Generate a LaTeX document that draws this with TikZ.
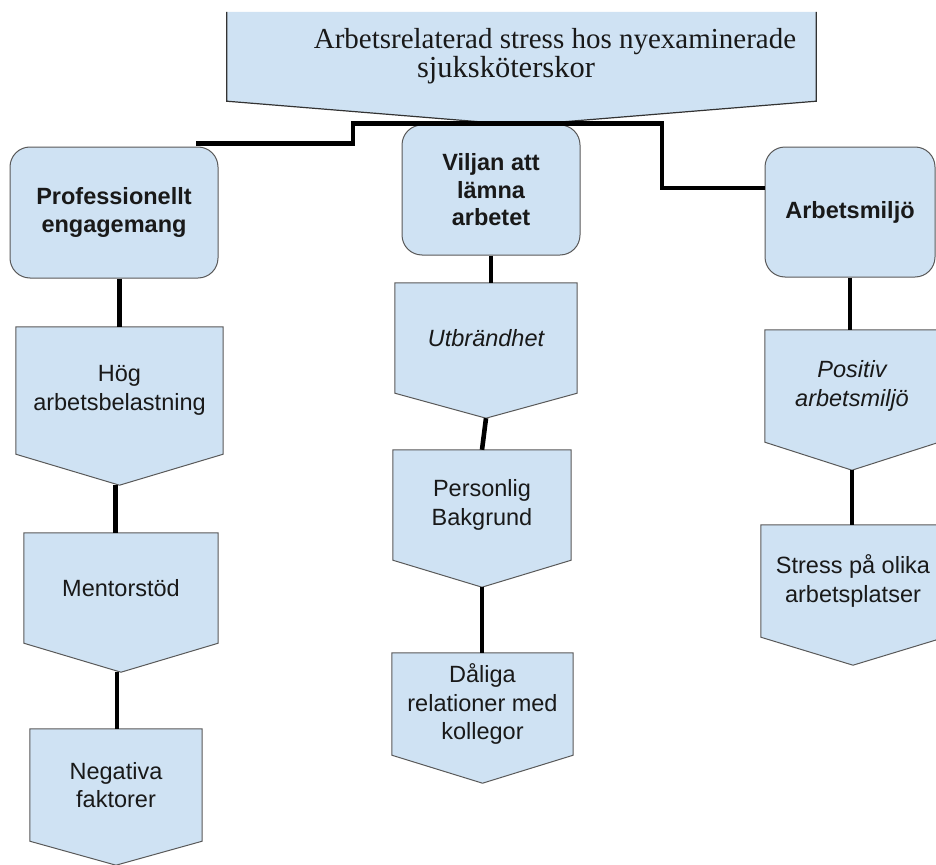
\documentclass[tikz,border=0pt]{standalone}
\usepackage{fontspec}
\setmainfont{Liberation Sans}
\newfontfamily\titlefont{Liberation Serif}
\usetikzlibrary{calc,backgrounds}
\definecolor{boxblue}{HTML}{CFE2F3}
\definecolor{edgegray}{HTML}{595959}
\newcommand{\pentshape}[2]{%
  \path[pentfill] (#1.north west) -- (#1.north east) -- (#1.south east)
    -- ($(#1.south)+(0,#2)$) coordinate (#1tip) -- (#1.south west) -- cycle;}
\begin{document}
\begin{tikzpicture}[x=1pt,y=-1pt,
  txt/.style={font=\fontsize{23.5}{28.5}\selectfont, align=center, inner sep=0pt, text=black!90},
  rbox/.style={txt, draw=edgegray, line width=1pt, fill=boxblue, rounded corners=20pt,
    font=\fontsize{23.5}{27.5}\selectfont\bfseries},
  pbox/.style={txt, rectangle},
  pentfill/.style={fill=boxblue, draw=edgegray, line width=1pt, line join=miter},
  conn/.style={draw=black, line width=4.6pt},
  titletxt/.style={font=\titlefont\fontsize{29}{28}\selectfont, inner sep=0pt, text=black!90}]
\useasboundingbox (0,0) rectangle (936,864);

% title
\node[rectangle, minimum width=589pt, minimum height=89pt, inner sep=0pt] (title) at (521.5,56.5) {};
\node[titletxt] (t1) at (555,42) {Arbetsrelaterad stress hos nyexaminerade};
\node[titletxt, font=\titlefont\fontsize{30.5}{28}\selectfont] (t2) at (506,70) {sjuksköterskor};

% level 1
\node[rbox, minimum width=208pt, minimum height=131pt] (prof) at (114,212.5) {Professionellt\\engagemang};
\node[rbox, minimum width=178pt, minimum height=130pt] (viljan) at (491,190) {Viljan att\\lämna\\arbetet};
\node[rbox, minimum width=170pt, minimum height=130pt] (arb) at (850,212) {Arbetsmiljö};

% left column
\node[pbox, minimum width=207pt, minimum height=127pt] (hog) at (119.5,390.5) {Hög\\arbetsbelastning};
\node[pbox, minimum width=194pt, minimum height=110pt] (mentor) at (121,588) {Mentorstöd};
\node[pbox, minimum width=172pt, minimum height=112pt] (neg) at (116,785) {Negativa\\faktorer};

% middle column
\node[pbox, minimum width=182pt, minimum height=110pt] (utb) at (486,338) {\itshape Utbrändhet};
\node[pbox, minimum width=178pt, minimum height=110pt] (pers) at (482,505) {Personlig\\Bakgrund};
\node[pbox, minimum width=181pt, minimum height=102pt] (dal) at (482.5,704) {Dåliga\\relationer med\\kollegor};

% right column
\node[pbox, minimum width=174pt, minimum height=112pt] (pos) at (852,386) {\itshape Positiv\\\itshape arbetsmiljö};
\node[pbox, minimum width=184pt, minimum height=112pt] (stress) at (853,581) {Stress på olika\\arbetsplatser};

\begin{scope}[on background layer]
  \fill[boxblue] (title.north west) -- (title.north east) -- (title.south east)
    -- ($(title.south)+(0,24)$) coordinate (titletip) -- (title.south west) -- cycle;
  \draw[draw=black!80, line width=1.2pt, line join=miter] (title.north west) -- (title.south west)
    -- (titletip) -- (title.south east) -- (title.north east);
  \pentshape{hog}{31}
  \pentshape{mentor}{29}
  \pentshape{neg}{24}
  \pentshape{utb}{25}
  \pentshape{pers}{27}
  \pentshape{dal}{28}
  \pentshape{pos}{28}
  \pentshape{stress}{28}
\end{scope}

% top connectors
\coordinate (jl) at (353,133);
\coordinate (jr) at (662,150);
\coordinate (tt) at ($(titletip)+(0,-2)$);
\draw[conn] (tt) -| (jl) |- ([xshift=-23pt,yshift=3pt]prof.north east);
\draw[conn] (tt) -| (jr) |- ([yshift=24pt]arb.west);

% vertical connectors
\draw[conn] (hog.north |- prof.south) -- (hog.north);
\draw[conn] ([xshift=-4pt]hogtip) -- ([xshift=-4pt]hogtip |- mentor.north);
\draw[conn] ([xshift=-4pt]mentortip) -- ([xshift=-4pt]mentortip |- neg.north);
\draw[conn] (viljan.south) -- (viljan.south |- utb.north);
\draw[conn] (utbtip) -- (pers.north);
\draw[conn] (perstip) -- (perstip |- dal.north);
\draw[conn] (arb.south) -- (arb.south |- pos.north);
\draw[conn] (postip) -- (postip |- stress.north);
\end{tikzpicture}
\end{document}
